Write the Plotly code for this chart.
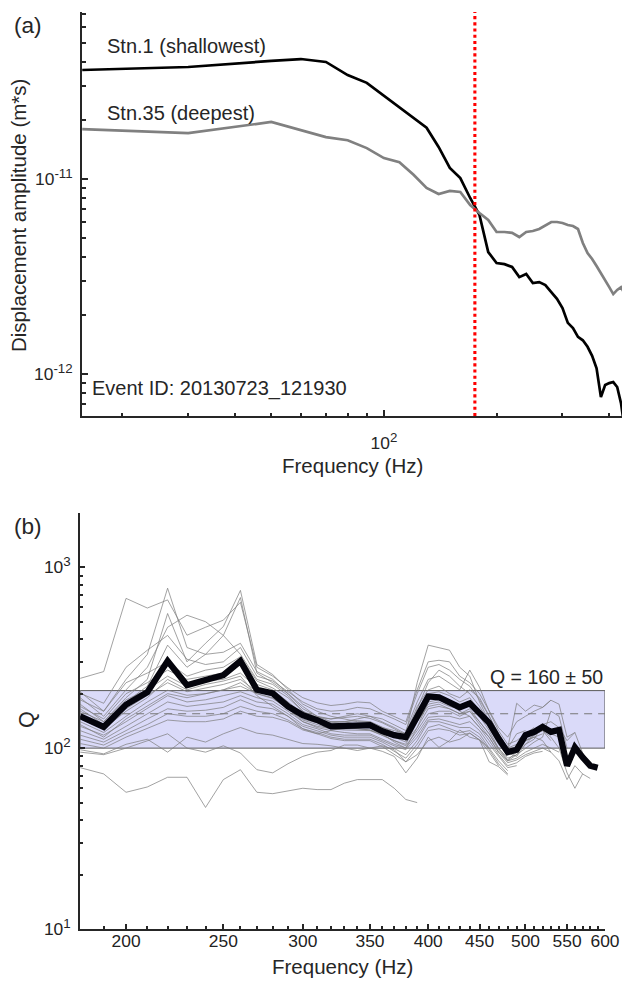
import plotly.graph_objects as go
import math

# ---------------- Panel (a) data ----------------
stn1_freq = [15.62, 30, 50, 60, 70, 80, 90, 100, 110, 120, 130, 140, 150, 160, 170, 180, 190, 200,
             210, 220, 230, 240, 250, 260, 270, 280, 290, 300, 310, 320, 330, 340, 350, 360, 370,
             380, 390, 400, 410, 420, 430, 440]
stn1_amp = [3.62e-11, 3.75e-11, 4.03e-11, 4.12e-11, 3.98e-11, 3.41e-11, 3.11e-11, 2.67e-11, 2.31e-11,
            2.05e-11, 1.83e-11, 1.46e-11, 1.14e-11, 1.01e-11, 7.99e-12, 6.54e-12, 4.22e-12, 3.71e-12,
            3.66e-12, 3.54e-12, 3.14e-12, 3.26e-12, 2.93e-12, 2.96e-12, 2.86e-12, 2.63e-12, 2.43e-12,
            2.18e-12, 1.83e-12, 1.72e-12, 1.55e-12, 1.49e-12, 1.38e-12, 1.24e-12, 1.07e-12, 7.62e-13,
            8.78e-13, 8.99e-13, 9.10e-13, 8.58e-13, 7.10e-13, 5.16e-13]

stn35_freq = stn1_freq
stn35_amp = [1.80e-11, 1.72e-11, 1.96e-11, 1.78e-11, 1.64e-11, 1.58e-11, 1.44e-11, 1.28e-11, 1.22e-11,
             1.05e-11, 8.99e-12, 8.38e-12, 8.68e-12, 8.58e-12, 7.35e-12, 6.69e-12, 6.16e-12, 5.35e-12,
             5.35e-12, 5.29e-12, 5.04e-12, 5.35e-12, 5.41e-12, 5.54e-12, 5.81e-12, 6.02e-12, 6.02e-12,
             5.95e-12, 5.81e-12, 5.74e-12, 5.54e-12, 4.70e-12, 4.17e-12, 3.89e-12, 3.58e-12, 3.30e-12,
             3.03e-12, 2.79e-12, 2.57e-12, 2.70e-12, 2.79e-12, 2.57e-12]

cutoff_freq = 175
event_id = "20130723_121930"

# ---------------- Panel (b) data ----------------
q_freq = [180, 190, 200, 210, 220, 230, 240, 250, 260, 270, 280, 290, 300, 310, 320, 330, 340, 350,
          360, 370, 380, 390, 400, 410, 420, 430, 440, 450, 460, 470, 480, 490, 500, 510, 520, 530,
          540, 550, 560, 570, 580, 590]

q_mean = [150, 131, 174, 204, 303, 223, 238, 253, 303, 210, 201, 170, 152, 143, 132, 133, 134, 134,
          124, 118, 115, 150, 193, 191, 180, 168, 177, 156, 138, 113, 95, 98, 118, 123, 131, 123,
          126, 80, 101, 89, 80, 78]

N = None
q_g1 = [243, 265, 673, 595, 660, 421, 466, 510, 640, 280, 250, 215, 190, 178, 172, 175, 180, 178,
        160, 150, 140, 210, 300, 306, 300, 250, 230, 200, 160, 130, 115, 140, 150, 160, 168, 184, N, N, N, N, N, N]
q_g2 = [205, 160, 240, 330, 766, 360, 330, 339, 380, 265, 240, 200, 165, 150, 145, 150, 155, 150,
        140, 130, 120, 230, 371, 360, 348, 280, 250, 180, 140, 110, 100, 120, 125, N, N, N, N, N, N, N, N, N]
q_g3 = [190, 150, 210, 280, 466, 543, 500, 420, 330, 240, 225, 195, 160, 140, 138, 140, 145, 150,
        145, 135, 125, 180, 240, 250, 230, 210, 270, 217, 160, 125, 105, 110, 120, 130, N, N, N, N, N, N, N, N]
q_g4 = [175, 140, 190, 240, 555, 300, 380, 470, 745, 290, 255, 210, 175, 160, 150, 145, 140, 140,
        130, 125, 120, 170, 210, 220, 200, 190, 210, 190, 150, 120, 100, 105, 115, 120, 125, 110, N, N, N, N, N, N]
q_g5 = [165, 135, 180, 220, 371, 280, 330, 420, 680, 260, 230, 200, 170, 150, 140, 140, 135, 138,
        128, 120, 112, 165, 230, 270, 250, 220, 200, 170, 140, 118, 98, 100, 110, 115, 120, N, N, N, N, N, N, N]
q_g6 = [201, 177, 280, 348, 420, 310, 290, 300, 360, 250, 235, 205, 180, 165, 160, 162, 168, 165,
        155, 145, 135, 200, 280, 290, 270, 240, 220, 185, 150, 120, 100, 177, 160, 173, 168, 184, 175, 115, 122, N, N, N]
q_g7 = [185, 160, 230, 260, 300, 250, 270, 280, 320, 235, 215, 190, 160, 148, 145, 148, 150, 146,
        138, 128, 118, 160, 200, 205, 195, 180, 190, 160, 130, 105, 92, 95, 110, 118, 126, 120, 115, N, N, N, N, N]
q_g8 = [170, 145, 200, 230, 270, 240, 250, 260, 290, 225, 210, 180, 155, 145, 140, 140, 142, 140,
        130, 122, 110, 150, 185, 195, 180, 170, 180, 155, 135, 110, 94, 90, 105, 112, 135, 140, 130, 110, 122, 94, 83, N]
q_g9 = [160, 140, 185, 210, 250, 220, 235, 240, 260, 215, 200, 175, 150, 140, 135, 135, 136, 134,
        126, 120, 115, 140, 175, 180, 170, 165, 175, 150, 125, 100, 88, 92, 100, 108, 115, 160, 150, 100, N, N, N, N]
q_g10 = [150, 128, 165, 195, 230, 205, 215, 225, 240, 205, 195, 168, 145, 138, 130, 128, 130, 130,
         120, 115, 108, 130, 165, 170, 165, 155, 165, 140, 120, 98, 85, 88, 95, 100, 105, 100, 95, N, N, N, N, N]
q_g11 = [140, 122, 150, 180, 209, 196, 200, 210, 220, 200, 190, 165, 143, 135, 128, 126, 125, 125,
         118, 110, 103, 125, 155, 160, 160, 150, 160, 135, 115, 95, 83, 86, 92, 96, 100, 95, N, N, N, N, N, N]
q_g12 = [132, 118, 140, 165, 195, 180, 185, 195, 205, 190, 182, 160, 140, 130, 125, 122, 120, 120,
         112, 105, 100, 120, 148, 150, 150, 145, 150, 130, 110, 92, 80, 83, 90, 94, 96, N, N, N, N, N, N, N]
q_g13 = [125, 112, 132, 155, 180, 170, 175, 180, 195, 180, 175, 155, 135, 128, 120, 118, 118, 118,
         110, 103, 98, 115, 143, 145, 140, 135, 140, 125, 105, 90, 78, 80, N, N, N, N, N, N, N, N, N, N]
q_g14 = [118, 108, 125, 145, 165, 160, 162, 168, 185, 170, 165, 150, 132, 125, 118, 115, 115, 115,
         108, 100, 92, 110, 140, 140, 135, 130, 130, 120, 100, 85, 75, N, N, N, N, N, N, N, N, N, N, N]
q_g15 = [112, 104, 120, 135, 155, 150, 150, 155, 170, 160, 155, 143, 128, 122, 115, 112, 112, 112,
         105, 96, 88, 105, 130, 135, 128, 122, 125, 115, 98, 82, 72, N, N, N, N, N, N, N, N, N, N, N]
q_g16 = [106, 100, 115, 128, 143, 140, 140, 145, 160, 150, 148, 140, 126, 120, 113, 110, 110, 110,
         102, 92, 84, 100, 125, 128, 125, 118, 121, 111, 95, 80, N, N, N, N, N, N, N, N, N, N, N, N]
q_g17 = [98, 93, 105, 112, 95, 115, 108, 120, 130, 121, 118, 112, 106, 105, 103, 100, 97, 100,
         103, 98, 84, 92, 110, 115, 108, 112, 121, 111, 84, 79, 71, N, N, N, N, N, N, N, N, N, N, N]
q_g18 = [95, 92, 100, 110, 120, 100, 95, 103, 94, 76, 73, 82, 90, 95, 97, 104, 104, 100,
         96, 90, 73, 88, 115, 101, 110, 126, 115, 111, 100, N, N, N, N, N, N, N, N, N, N, N, N, N]
q_g19 = [78, 72, 57, 61, 69, 69, 47, 67, 76, 57, 56, 58, 60, 59, 59, 64, 67, 67,
         67, 60, 52, 50, N, N, N, N, N, N, N, N, N, N, N, N, N, N, N, N, N, N, N, N]
q_g20 = [145, 128, 160, 190, 240, 210, 225, 235, 250, 195, 170, 150, 128, 120, 125, 130, 128, 126,
         120, 108, 100, 130, 180, 185, 175, 160, 150, 130, 115, 95, 85, 92, 110, 115, 110, 95, 85, 67, 80, 72, 68, N]
q_g21 = [135, 115, 145, 170, 200, 190, 200, 210, 230, 200, 188, 165, 140, 132, 128, 128, 128, 126,
         118, 110, 105, 140, 170, 175, 165, 155, 160, 140, 120, 100, 86, 95, 105, 118, 125, 115, 100, 73, 60, 72, N, N]

q_stations = [q_g1, q_g2, q_g3, q_g4, q_g5, q_g6, q_g7, q_g8, q_g9, q_g10, q_g11, q_g12, q_g13,
              q_g14, q_g15, q_g16, q_g17, q_g18, q_g19, q_g20, q_g21]

q_band_low = 100
q_band_high = 208
q_center = 155
q_label = "Q = 160 ± 50"

# ---------------- Figure ----------------
# design coordinates are the 622x982 picture; the page is drawn slightly larger
DW, DH = 622, 982
W, H = 638, 992
S = W / DW
FONT = "Liberation Sans, Arial, Helvetica, sans-serif"
AX = "#262626"


def px(x):
    return x / DW


def py(y):
    return 1 - y / DH


def fs(v):
    return round(v * S, 1)


def sup(base, exp, size):
    return base + "<sup><span style=\"font-size:%spx\">%s</span></sup>" % (fs(size), exp)


fig = go.Figure()

# Panel (a)
fig.add_trace(go.Scatter(x=stn1_freq, y=stn1_amp, mode="lines",
                         line=dict(color="black", width=fs(2.6)), xaxis="x", yaxis="y"))
fig.add_trace(go.Scatter(x=stn35_freq, y=stn35_amp, mode="lines",
                         line=dict(color="#808080", width=fs(2.6)), xaxis="x", yaxis="y"))

ya_range = [-12.215, -10.144]
fig.add_trace(go.Scatter(x=[cutoff_freq, cutoff_freq], y=[10 ** ya_range[0], 10 ** ya_range[1]],
                         mode="lines", line=dict(color="red", width=fs(3), dash="dot"),
                         xaxis="x", yaxis="y"))

# Panel (b)
xb_lo, xb_hi = 180, 600
fig.add_trace(go.Scatter(x=[xb_lo, xb_hi, xb_hi, xb_lo, xb_lo],
                         y=[q_band_low, q_band_low, q_band_high, q_band_high, q_band_low],
                         mode="lines", fill="toself", fillcolor="rgb(218,218,249)",
                         line=dict(color="#5a5a5a", width=1), xaxis="x2", yaxis="y2"))
fig.add_trace(go.Scatter(x=[xb_lo, xb_hi], y=[q_center, q_center], mode="lines",
                         line=dict(color="#777777", width=1.1, dash="8px,6px"),
                         xaxis="x2", yaxis="y2"))
for s in q_stations:
    fig.add_trace(go.Scatter(x=q_freq, y=s, mode="lines",
                             line=dict(color="rgba(125,125,125,0.8)", width=0.9),
                             xaxis="x2", yaxis="y2", connectgaps=False))
fig.add_trace(go.Scatter(x=q_freq, y=q_mean, mode="lines",
                         line=dict(color="#04040c", width=fs(6)), xaxis="x2", yaxis="y2"))

common = dict(showgrid=False, zeroline=False, showline=True, linewidth=2, linecolor=AX,
              ticks="inside", tickwidth=1.5, tickcolor=AX, mirror=False)

fig.update_layout(
    width=W, height=H, autosize=False, margin=dict(l=0, r=0, t=0, b=0, pad=0),
    paper_bgcolor="white", plot_bgcolor="white", showlegend=False,
    font=dict(family=FONT, color=AX),
    xaxis=dict(type="log", domain=[px(82), 1.0], range=[1.1937, 2.6388], anchor="y",
               tickmode="array", tickvals=[100], ticktext=[sup("10", "2", 13)], ticklen=6,
               ticklabelstandoff=10, tickfont=dict(family=FONT, size=fs(17), color=AX),
               minor=dict(ticks="inside", tickmode="array",
                          tickvals=[20, 30, 40, 50, 60, 70, 80, 90, 200, 300, 400],
                          ticklen=3.5, tickwidth=1.5, tickcolor=AX),
               **common),
    yaxis=dict(type="log", domain=[py(416), py(12)], range=ya_range, anchor="x",
               tickmode="array", tickvals=[1e-12, 1e-11],
               ticktext=[sup("10", "-12", 13), sup("10", "-11", 13)],
               ticklen=6, ticklabelstandoff=4, tickfont=dict(family=FONT, size=fs(17), color=AX),
               minor=dict(ticks="inside", tickmode="array",
                          tickvals=[7e-13, 8e-13, 9e-13] + [k * 1e-12 for k in range(2, 10)]
                          + [k * 1e-11 for k in range(2, 8)],
                          ticklen=3.5, tickwidth=1.5, tickcolor=AX),
               **common),
    xaxis2=dict(type="log", domain=[px(80), px(604)], range=[math.log10(180), math.log10(600)],
                anchor="y2", tickmode="array", tickvals=[200, 250, 300, 350, 400, 450, 500, 550, 600],
                ticktext=["200", "250", "300", "350", "400", "450", "500", "550", "600"], ticklen=5,
                ticklabelstandoff=-5, tickfont=dict(family=FONT, size=fs(17), color="#222222"),
                minor=dict(ticks="inside", tickmode="array",
                           tickvals=[f for f in range(190, 600, 10) if f % 50 != 0],
                           ticklen=3, tickwidth=1.5, tickcolor=AX),
                **common),
    yaxis2=dict(type="log", domain=[py(929), py(513)], range=[1, 3.3], anchor="x2",
                tickmode="array", tickvals=[10, 100, 1000],
                ticktext=[sup("10", "1", 13), sup("10", "2", 13), sup("10", "3", 13)], ticklen=5,
                ticklabelstandoff=4, tickfont=dict(family=FONT, size=fs(17), color="#222222"),
                minor=dict(ticks="inside", tickmode="array",
                           tickvals=[k * 10 for k in range(2, 10)] + [k * 100 for k in range(2, 10)] + [2000],
                           ticklen=3, tickwidth=1.5, tickcolor=AX),
                **common),
)

ann = []


def add_text(text, x, y, size, xanchor="center", yanchor="middle", angle=0, color=AX):
    ann.append(dict(text=text, x=px(x), y=py(y), xref="paper", yref="paper", showarrow=False,
                    xanchor=xanchor, yanchor=yanchor, textangle=angle,
                    font=dict(family=FONT, size=fs(size), color=color)))


add_text("(a)", 28, 25, 22)
add_text("Stn.1 (shallowest)", 105, 46, 19.5, xanchor="left")
add_text("Stn.35 (deepest)", 105, 113, 19.5, xanchor="left")
add_text("Event ID: " + event_id, 90, 388, 19.5, xanchor="left")
add_text("Frequency (Hz)", 352, 465, 20)
add_text("Displacement amplitude (m*s)", 19, 216, 20, angle=-90)
add_text("(b)", 28, 526, 22)
add_text("Q", 27, 720, 21, angle=-90)
add_text(q_label, 604, 677, 19, xanchor="right")
add_text("Frequency (Hz)", 342, 966, 20)

fig.update_layout(annotations=ann)

post = ("document.documentElement.style.margin='0';document.documentElement.style.padding='0';"
        "document.body.style.margin='0';document.body.style.padding='0';")

fig.write_html("out.html", post_script=post, config={"displayModeBar": False})
